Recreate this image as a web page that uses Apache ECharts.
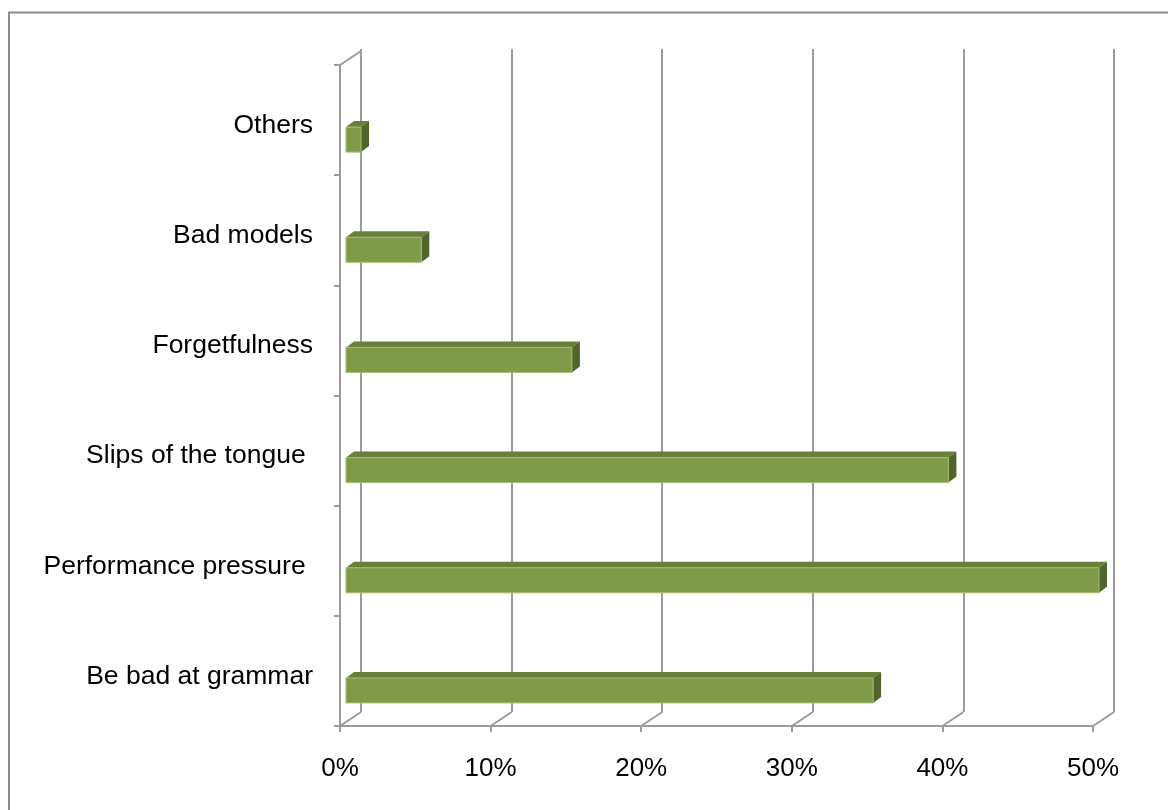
<!DOCTYPE html>
<html>
<head>
<meta charset="utf-8">
<script src="https://cdn.jsdelivr.net/npm/echarts@6/dist/echarts.min.js"></script>
<style>
  html, body { margin: 0; padding: 0; background: #fff; }
  #chart { width: 1168px; height: 810px; }
</style>
</head>
<body>
<div id="chart"></div>
<script>
// data, bottom category first
var categories = ['Be bad at grammar', 'Performance pressure ', 'Slips of the tongue ', 'Forgetfulness', 'Bad models', 'Others'];
var values = [35, 50, 40, 15, 5, 1];
var xTicks = [0, 10, 20, 30, 40, 50];

var gridColor = '#9b9b9b';
var font = '"Liberation Sans", Arial, sans-serif';
// depth of the 3d box (front plane -> back wall)
var DX = 21, DY = -14;
// bar depth and offsets inside the box
var BDX = 8, BDY = -6, BAR_SHIFT = 6;

var chart = echarts.init(document.getElementById('chart'));

function renderFrame(params, api) {
  var v = api.value(0);
  var cs = params.coordSys;
  var x = api.coord([v, 0])[0];
  var bottom = cs.y + cs.height;
  var children = [{
    type: 'line',
    shape: { x1: x, y1: bottom, x2: x + DX, y2: bottom + DY },
    style: { stroke: gridColor, lineWidth: 2 }
  }];
  if (v === 0) {
    children.push({
      type: 'line',
      shape: { x1: x, y1: cs.y, x2: x + DX, y2: cs.y + DY },
      style: { stroke: gridColor, lineWidth: 2 }
    });
  }
  return { type: 'group', children: children };
}

function renderBar(params, api) {
  var v = api.value(0);
  var i = api.value(1);
  var p0 = api.coord([0, i]);
  var p1 = api.coord([v, i]);
  var x0 = p0[0] + BAR_SHIFT, x1 = p1[0] + BAR_SHIFT;
  var y0 = p0[1] + 7, y1 = p0[1] + 32;
  return {
    type: 'group',
    children: [
      {
        type: 'polygon',
        shape: { points: [[x0, y0], [x1, y0], [x1 + BDX, y0 + BDY], [x0 + BDX, y0 + BDY]] },
        style: { fill: '#677f39' }
      },
      {
        type: 'polygon',
        shape: { points: [[x1, y0], [x1 + BDX, y0 + BDY], [x1 + BDX, y1 + BDY], [x1, y1]] },
        style: { fill: '#51642b' }
      },
      {
        type: 'rect',
        shape: { x: x0, y: y0, width: x1 - x0, height: y1 - y0 },
        style: { fill: '#7f9a48', stroke: '#a4be70', lineWidth: 1 }
      }
    ]
  };
}

var option = {
  backgroundColor: '#fff',
  animation: false,
  graphic: [{
    type: 'rect',
    shape: { x: 9, y: 12.5, width: 1300, height: 900 },
    style: { fill: null, stroke: '#8c8c8c', lineWidth: 2 },
    silent: true
  }],
  grid: [
    { left: 340, right: 75, top: 65, bottom: 84 },
    { left: 361, right: 54, top: 49, bottom: 98 }
  ],
  xAxis: [
    {
      gridIndex: 0, type: 'value', min: 0, max: 50, interval: 10,
      axisLine: { show: true, lineStyle: { color: gridColor, width: 2 } },
      axisTick: { show: true, length: 6, lineStyle: { color: gridColor, width: 2 } },
      axisLabel: { formatter: '{value}%', fontSize: 26, color: '#000', fontFamily: font, margin: 30 },
      splitLine: { show: false }
    },
    {
      gridIndex: 1, type: 'value', min: 0, max: 50, interval: 10,
      axisLine: { show: false }, axisTick: { show: false }, axisLabel: { show: false },
      splitLine: { show: true, lineStyle: { color: gridColor, width: 2 } }
    }
  ],
  yAxis: [
    {
      gridIndex: 0, type: 'category', data: categories,
      axisLine: { show: true, lineStyle: { color: gridColor, width: 2 } },
      axisTick: { show: true, length: 6, lineStyle: { color: gridColor, width: 2 } },
      axisLabel: {
        margin: 27,
        formatter: function (v) { return '{a|' + v + '}'; },
        rich: { a: { fontSize: 26.5, color: '#000', fontFamily: font, padding: [11, 0, 0, 0] } }
      },
      splitLine: { show: false }
    },
    {
      gridIndex: 1, type: 'category', data: categories, show: false
    }
  ],
  series: [
    {
      type: 'custom', name: 'frame', xAxisIndex: 0, yAxisIndex: 0,
      renderItem: renderFrame, silent: true, z: 1,
      data: xTicks.map(function (t) { return [t]; })
    },
    {
      type: 'custom', name: 'bars', xAxisIndex: 0, yAxisIndex: 0,
      renderItem: renderBar, z: 5,
      encode: { x: 0, y: 1 },
      data: values.map(function (v, i) { return [v, i]; })
    }
  ]
};
chart.setOption(option);
</script>
</body>
</html>
